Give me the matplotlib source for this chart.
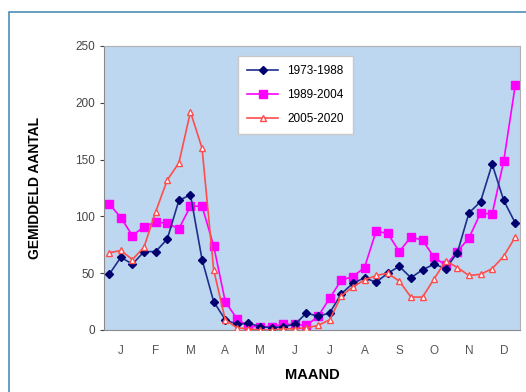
import numpy as np
import matplotlib
matplotlib.use("Agg")
import matplotlib.pyplot as plt
from matplotlib.patches import Rectangle

plt.rcParams['font.family'] = ['Liberation Sans', 'DejaVu Sans']

# Data: gemiddeld aantal per decade (3 per maand)
decade = np.arange(1, 37)
months = ["J", "F", "M", "A", "M", "J", "J", "A", "S", "O", "N", "D"]

p1973_1988 = [49, 64, 58, 69, 69, 80, 114, 119, 62, 25, 9, 5,
              6, 3, 2, 3, 5, 15, 12, 15, 32, 41, 46, 42,
              50, 56, 46, 53, 58, 54, 68, 103, 113, 146, 114, 94]
p1989_2004 = [111, 99, 83, 91, 95, 94, 89, 109, 109, 74, 25, 10,
              3, 3, 3, 5, 5, 4, 12, 28, 44, 47, 55, 87,
              85, 69, 82, 79, 64, 57, 69, 81, 103, 102, 149, 216]
p2005_2020 = [68, 70, 62, 73, 104, 132, 147, 192, 160, 53, 9, 2,
              1, 0, 0, 1, 1, 2, 4, 9, 30, 38, 44, 48,
              50, 43, 29, 29, 45, 61, 55, 48, 49, 54, 65, 82]

fig = plt.figure(figsize=(5.26, 3.92), dpi=100)

# outer frame (cut off at right/bottom like the original)
fig.patches.append(Rectangle((9 / 526, -0.1), 1.2, (392 - 12) / 392 + 0.1,
                             transform=fig.transFigure, fill=False,
                             edgecolor='#4a8fb5', linewidth=1.2))

ax = fig.add_axes([104 / 526, (392 - 330) / 392, 416 / 526, 284 / 392])
ax.set_facecolor('#bed7f0')

ax.plot(decade, p1973_1988, color='#1c2f8c', marker='D', markersize=4,
        markerfacecolor='#000070', markeredgecolor='#000070', linewidth=1.2,
        label='1973-1988', zorder=3)
ax.plot(decade, p1989_2004, color='#ff00ff', marker='s', markersize=5.5,
        markerfacecolor='#ff00ff', markeredgecolor='#ff00ff', linewidth=1.2,
        label='1989-2004', zorder=2)
ax.plot(decade, p2005_2020, color='#ff4d4d', marker='^', markersize=5,
        markerfacecolor='white', markeredgecolor='#ff4d4d', linewidth=1.2,
        label='2005-2020', zorder=4)

ax.set_xlim(0.55, 36.4)
ax.set_ylim(0, 250)
ax.set_yticks(range(0, 251, 50))
ax.set_xticks(decade[1::3])
ax.set_xticklabels(months)

ax.tick_params(axis='y', labelsize=8.5, colors='#444444', length=3)
ax.tick_params(axis='x', labelsize=8.5, colors='#555555', length=0, pad=11)
for side in ['left', 'bottom']:
    ax.spines[side].set_color('#8a8a8a')
for side in ['top', 'right']:
    ax.spines[side].set_color('#b0b0b0')

ax.set_ylabel('GEMIDDELD AANTAL', fontsize=10, fontweight='bold')
ax.yaxis.set_label_coords(-0.15, 0.5)
ax.set_xlabel('MAAND', fontsize=10.5, fontweight='bold')
ax.xaxis.set_label_coords(0.5, -0.135)

leg = ax.legend(loc='upper left', bbox_to_anchor=(0.322, 0.965), borderaxespad=0,
                fontsize=8.5, handlelength=2.6, labelspacing=1.0,
                fancybox=False, framealpha=1, edgecolor='#c8c8c8',
                borderpad=0.8)

fig.savefig('out.png', dpi=100)
